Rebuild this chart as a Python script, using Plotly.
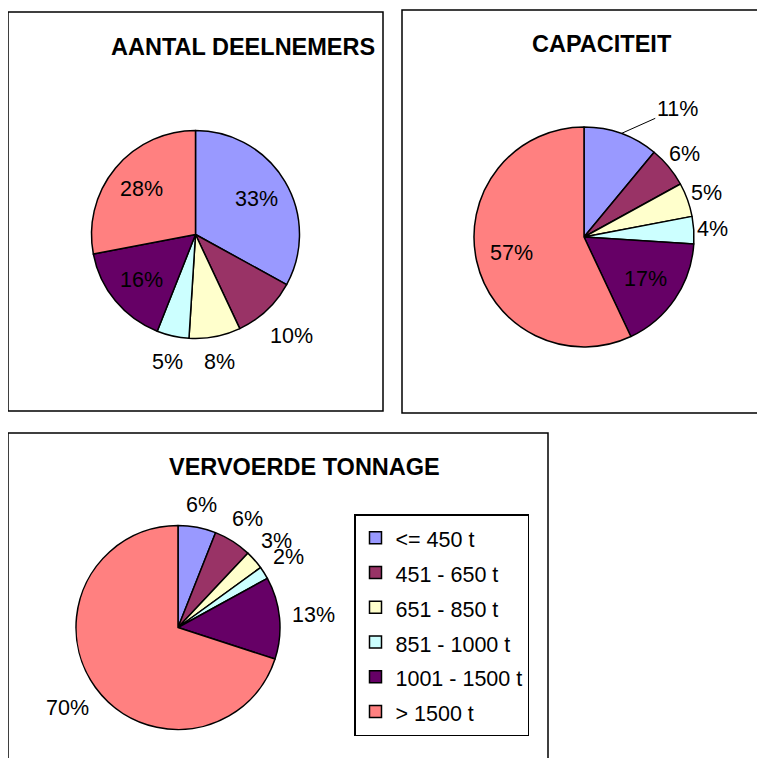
import math
import plotly.graph_objects as go

# Page has an 8px body margin; work in reference-pixel coordinates and convert.
OFF = 8
FW, FH = 765 - OFF, 758 - OFF

categories = ["<= 450 t", "451 - 650 t", "651 - 850 t", "851 - 1000 t", "1001 - 1500 t", "> 1500 t"]
deelnemers = [33, 10, 8, 5, 16, 28]
capaciteit = [11, 6, 5, 4, 17, 57]
tonnage = [6, 6, 3, 2, 13, 70]
chart_titles = ["AANTAL DEELNEMERS", "CAPACITEIT", "VERVOERDE TONNAGE"]

colors = ["#9999FF", "#993366", "#FFFFCC", "#CCFFFF", "#660066", "#FF8080"]
FONT = "Liberation Sans, Arial, sans-serif"
LABEL_SIZE = 21.5
TITLE_SIZE = 23.5
LEGEND_SIZE = 21.5


def px(x):
    return (x - OFF) / FW


def py(y):
    return 1 - (y - OFF) / FH


def esc(s):
    return s.replace("&", "&amp;").replace("<", "&lt;").replace(">", "&gt;")


legend_labels = [f"<span style='font-size:{LEGEND_SIZE}px'>{esc(c)}</span>" for c in categories]

# pie geometry (reference pixel frame): centre x, centre y, radius, label gap
pies = [
    dict(values=deelnemers, cx=195.5, cy=234.5, r=104, gap=15,
         inside=[True, False, False, False, True, True], leader={}),
    dict(values=capaciteit, cx=584, cy=237, r=110, gap=3,
         inside=[False, False, False, False, True, True], leader={0: (56, -25)}),
    dict(values=tonnage, cx=178, cy=627.5, r=102, gap=12,
         inside=[False] * 6, leader={}),
]

fig = go.Figure()
annotations = []

for i, p in enumerate(pies):
    cx, cy, r = p["cx"], p["cy"], p["r"]
    fig.add_trace(go.Pie(
        labels=legend_labels,
        values=p["values"],
        sort=False,
        direction="clockwise",
        rotation=0,
        marker=dict(colors=colors, line=dict(color="black", width=1.5)),
        textinfo="none",
        domain=dict(x=[px(cx - r), px(cx + r)], y=[py(cy + r), py(cy - r)]),
        showlegend=(i == 2),
        hoverinfo="label+percent",
    ))
    total = sum(p["values"])
    cum = 0
    for j, v in enumerate(p["values"]):
        mid = (cum + v / 2) / total * 2 * math.pi
        cum += v
        dx, dy = math.sin(mid), -math.cos(mid)
        text = f"{v}%"
        if p["inside"][j]:
            d = 0.68 * r
        else:
            hw = LABEL_SIZE * (0.556 * (len(text) - 1) + 0.889) / 2
            hh = 8
            d = r + p["gap"] + hw * abs(dx) + hh * abs(dy)
        if j in p["leader"]:
            ax, ay = p["leader"][j]
            annotations.append(dict(
                text=text, x=px(cx + r * dx), y=py(cy + r * dy), xref="paper", yref="paper",
                showarrow=True, ax=ax, ay=ay, arrowhead=0, arrowwidth=1, arrowcolor="black",
                standoff=0, font=dict(family=FONT, size=LABEL_SIZE, color="black")))
        else:
            annotations.append(dict(
                text=text, x=px(cx + d * dx), y=py(cy + d * dy), xref="paper", yref="paper",
                xanchor="center", yanchor="middle", showarrow=False,
                font=dict(family=FONT, size=LABEL_SIZE, color="black")))


def rect(x0, y0, x1, y1):
    return dict(type="rect", xref="paper", yref="paper",
                x0=px(x0), x1=px(x1), y0=py(y1), y1=py(y0),
                line=dict(color="black", width=1.5), fillcolor="rgba(0,0,0,0)", layer="below")


title_pos = [(243, 47), (602, 44), (304, 467)]
for t, (tx, ty) in zip(chart_titles, title_pos):
    annotations.append(dict(text="<b>" + t + "</b>", x=px(tx), y=py(ty), xref="paper", yref="paper",
                            xanchor="center", yanchor="middle", showarrow=False,
                            font=dict(family=FONT, size=TITLE_SIZE, color="black")))

fig.update_layout(
    width=FW, height=FH,
    margin=dict(l=0, r=0, t=0, b=0),
    paper_bgcolor="white", plot_bgcolor="white",
    font=dict(family=FONT, size=LABEL_SIZE, color="black"),
    shapes=[rect(8, 12, 383, 411), rect(402, 10, 763, 413), rect(8, 433, 548, 780)],
    annotations=annotations,
    legend=dict(x=px(354), y=py(514), xanchor="left", yanchor="top",
                bordercolor="black", borderwidth=1.5, bgcolor="white",
                font=dict(family=FONT, size=24.4, color="black"),
                traceorder="normal"),
)

fig.write_html("out.html")
